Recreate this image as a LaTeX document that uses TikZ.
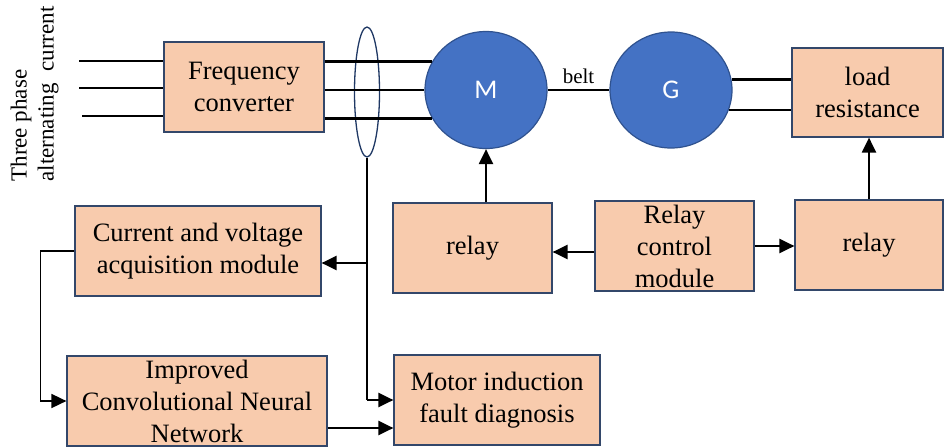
\documentclass[tikz,border=0pt]{standalone}
\usepackage{fontspec}
\setmainfont{Liberation Serif}
\newfontfamily\msans{Carlito}
\usetikzlibrary{shapes.geometric,arrows.meta}
\definecolor{boxfill}{HTML}{F8CBAD}
\definecolor{boxline}{HTML}{33476A}
\definecolor{circfill}{HTML}{4472C4}
\definecolor{circline}{HTML}{2F528F}
\definecolor{clampline}{HTML}{1F3864}
\tikzset{
  blk/.style={draw=boxline, line width=1.2pt, fill=boxfill, align=center, inner sep=0pt,
    font=\fontsize{26.5}{32}\selectfont},
  mach/.style={ellipse, draw=circline, line width=1.2pt, fill=circfill, inner sep=0pt,
    text=white, font=\msans\fontsize{27}{30}\selectfont},
  wire/.style={line width=2.4pt, black},
  arr/.style={line width=2.2pt, black, -{Triangle[length=15pt,width=14pt]}},
  thinarr/.style={line width=1.7pt, black, -{Triangle[length=15pt,width=14pt]}}
}
\begin{document}
\begin{tikzpicture}[x=1pt,y=-1pt]
\useasboundingbox (0,0) rectangle (944,447);
% boxes
\node[blk, minimum width=160pt, minimum height=90pt] (fc) at (244,87) {Frequency\\converter};
\node[blk, minimum width=246pt, minimum height=90pt] (cv) at (198,251) {Current and voltage\\acquisition module};
\node[blk, minimum width=260pt, minimum height=90pt] (cnn) at (197,401) {Improved\\Convolutional Neural\\Network};
\node[blk, minimum width=206pt, minimum height=90pt] (mfd) at (497,400) {Motor induction\\fault diagnosis};
\node[blk, minimum width=159pt, minimum height=90pt] (relayL) at (472.5,248) {relay};
\node[blk, minimum width=159pt, minimum height=90pt] (rcm) at (674.5,246) {Relay\\control\\module};
\node[blk, minimum width=148pt, minimum height=90pt] (relayR) at (869,245) {relay};
\node[blk, minimum width=151pt, minimum height=89pt] (load) at (867.5,92.5) {load\\resistance};
% machines
\node[mach, minimum width=122pt, minimum height=117pt] (M) at (486,90) {M};
\node[mach, minimum width=122pt, minimum height=116pt] (G) at (671,90) {G};
% clamp ellipse
\node[ellipse, draw=clampline, line width=1.3pt, minimum width=25pt, minimum height=130pt, inner sep=0pt] (clamp) at (367,92) {};
% side label
\node[rotate=90, align=left, font=\fontsize{23}{27}\selectfont, anchor=south west] (tpac) at (62,185) {Three phase\\alternating\ \ current};
% input wires
\coordinate (in1) at (79,61);
\coordinate (in2) at (79,88);
\coordinate (in3) at (82,116);
\draw[wire] (in1) -- (in1 -| fc.west);
\draw[wire] (in2) -- (in2 -| fc.west);
\draw[wire] (in3) -- (in3 -| fc.west);
% output wires to M
\draw[wire] (M.152 -| fc.east) -- (M.152);
\draw[wire] (M.west -| fc.east) -- (M.west);
\draw[wire] (M.208 -| fc.east) -- (M.208);
% belt
\draw[wire] (M.east) -- node[above=2pt, font=\fontsize{21}{24}\selectfont] (beltlbl) {belt} (G.west);
% G to load
\draw[wire] (G.10) -- (G.10 -| load.west);
\draw[wire] (G.-19) -- (G.-19 -| load.west);
% sensing line
\coordinate (j1) at (367,263);
\draw[wire] (clamp.south) -- (clamp.south |- mfd.west);
\draw[arr] (clamp.south |- mfd.west) -- (mfd.west);
\draw[arr] (j1) -- (j1 -| cv.east);
% feedback to CNN
\draw[thinarr] (cv.west) -- ++(-34,0) |- (cnn.west);
% CNN to diagnosis
\draw[arr] ([yshift=-27pt]cnn.east) -- ([yshift=-27pt]cnn.east -| mfd.west);
% relays
\draw[arr] (M.south |- relayL.north) -- (M.south);
\coordinate (j2) at (595,252);
\draw[arr] (j2 -| rcm.west) -- (j2 -| relayL.east);
\draw[arr] (rcm.east) -- (rcm.east -| relayR.west);
\draw[arr] (relayR.north) -- (relayR.north |- load.south);
\end{tikzpicture}
\end{document}
